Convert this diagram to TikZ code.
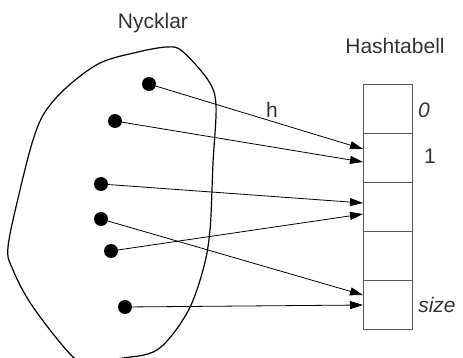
\documentclass[tikz,border=0pt]{standalone}
\usepackage{fontspec}
\setmainfont{Liberation Sans}
\usetikzlibrary{positioning,arrows.meta}
\definecolor{labelgray}{HTML}{333333}
\definecolor{boxgray}{HTML}{555555}
\tikzset{
  key/.style    ={circle, fill=black, inner sep=0pt, minimum size=14pt},
  slot/.style   ={rectangle, draw=boxgray, line width=0.9pt, minimum width=49pt, minimum height=49pt, inner sep=0pt, outer sep=0pt},
  hasharr/.style={-{Triangle[length=13pt,width=8pt]}, line width=0.8pt},
  lbl/.style    ={font=\fontsize{21}{25}\selectfont, text=labelgray, inner sep=0pt},
}
\begin{document}
\begin{tikzpicture}[x=1pt,y=-1pt]
\clip (0,0) rectangle (463,358);
% ---- the set of keys
\draw[line width=1.2pt] plot[smooth cycle, tension=0.55] coordinates {
  (167,47) (182,51) (208,80) (216,105) (213,163) (210,230) (203,270) (187,313)
  (157,350) (117,359) (95,365) (73,357) (33,307) (13,270) (8,247) (20,190)
  (33,140) (45,112) (67,87) (100,63) (138,52)};
\node[lbl] (nyck) at (153,23) {Nycklar};
\node[key] (k1) at (149,84) {};
\node[key] (k2) at (115,121) {};
\node[key] (k3) at (101,184) {};
\node[key] (k4) at (101,219) {};
\node[key] (k5) at (111,251) {};
\node[key] (k6) at (125,307) {};

% ---- the hash table
\node[slot] (s0) at (387.5,108.5) {};
\node[slot, below=0pt of s0] (s1) {};
\node[slot, below=0pt of s1] (s2) {};
\node[slot, below=0pt of s2] (s3) {};
\node[slot, below=0pt of s3] (s4) {};
\node[lbl] (htab) at (395,46) {Hashtabell};
\node[lbl] (idx0) at (424,110) {\itshape 0};
\node[lbl] (idx1) at (430,156) {1};
\node[lbl] (idxn) at (437,305) {\itshape size};
\node[lbl] (hfun) at (272,110) {h};

% ---- h maps keys to slots
\draw[hasharr] (k1) -- ([yshift=8.5pt]s1.west);
\draw[hasharr] (k2) -- ([yshift=-4.5pt]s1.west);
\draw[hasharr] (k3) -- ([yshift=3.5pt]s2.west);
\draw[hasharr] (k5) -- ([yshift=-7.5pt]s2.west);
\draw[hasharr] (k4) -- ([yshift=9.5pt]s4.west);
\draw[hasharr] (k6) -- ([yshift=-0.5pt]s4.west);
\end{tikzpicture}
\end{document}
